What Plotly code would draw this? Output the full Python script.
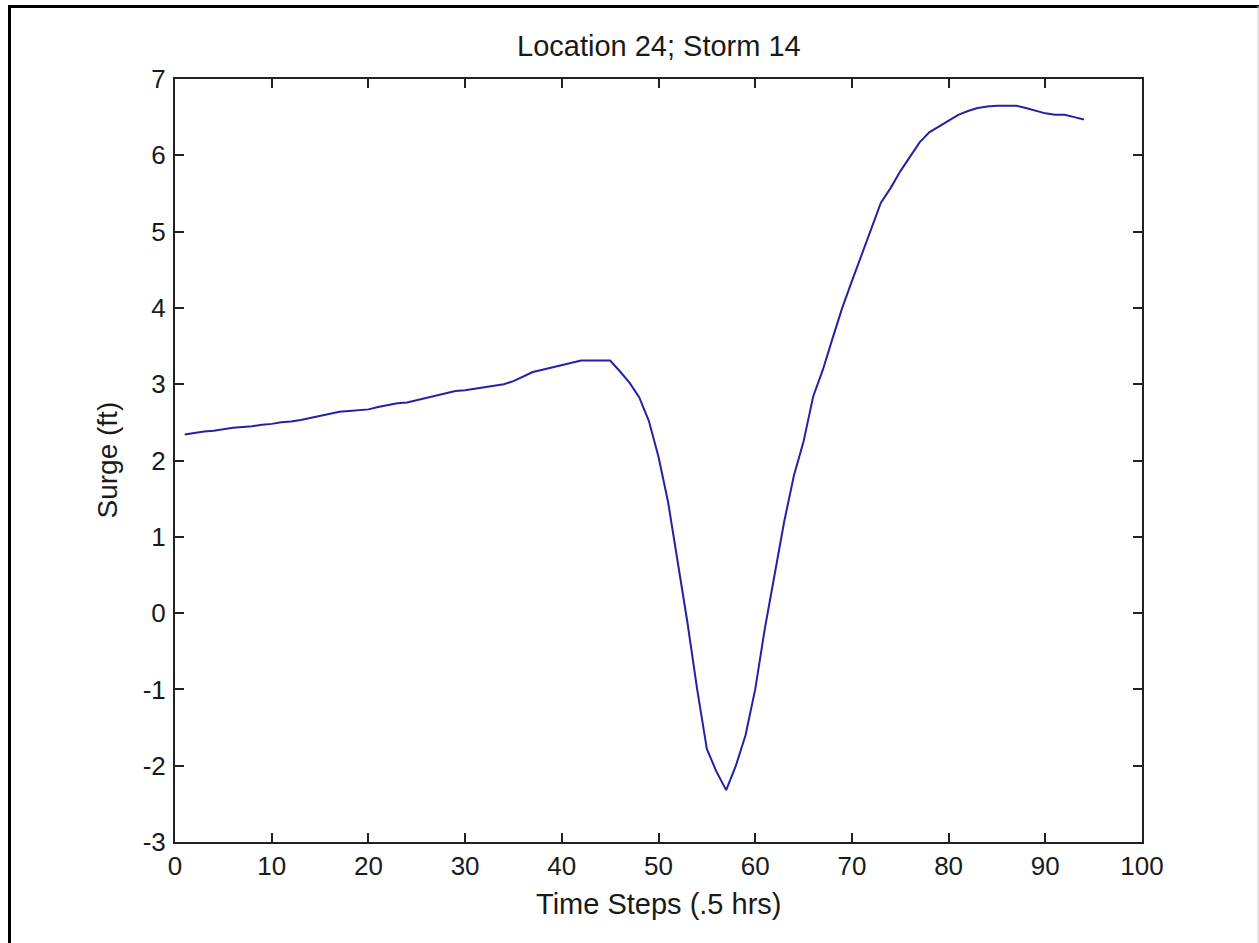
import plotly.graph_objects as go

# Surge time series at Location 24, Storm 14 (half-hour time steps)
time_steps = list(range(1, 95))
surge_ft = [
    2.34, 2.36, 2.38, 2.39, 2.41, 2.43, 2.44, 2.45, 2.47, 2.48,
    2.50, 2.51, 2.53, 2.56, 2.59, 2.62, 2.64, 2.65, 2.66, 2.67,
    2.70, 2.73, 2.75, 2.76, 2.79, 2.82, 2.85, 2.88, 2.91, 2.92,
    2.94, 2.96, 2.98, 3.00, 3.04, 3.10, 3.16, 3.19, 3.22, 3.26,
    3.29, 3.31, 3.31, 3.31, 3.31, 3.17, 3.02, 2.83, 2.52, 2.05,
    1.45, 0.66, -0.13, -1.00, -1.78, -2.08, -2.32, -2.00, -1.60, -1.00,
    -0.20, 0.50, 1.20, 1.80, 2.25, 2.84, 3.19, 3.60, 4.00, 4.35,
    4.70, 5.05, 5.38, 5.57, 5.79, 5.98, 6.17, 6.30, 6.38, 6.45,
    6.53, 6.58, 6.62, 6.64, 6.65, 6.65, 6.65, 6.62, 6.58, 6.55,
    6.53, 6.53, 6.50, 6.47,
]

x_ticks = [0, 10, 20, 30, 40, 50, 60, 70, 80, 90, 100]
y_ticks = [-3, -2, -1, 0, 1, 2, 3, 4, 5, 6, 7]

W, H = 1259, 943
L, R, T, B = 175, 117, 79, 101
PW, PH = W - L - R, H - T - B

FONT = "Liberation Sans, Arial, sans-serif"
INK = "#1a1a1a"

fig = go.Figure()
fig.add_trace(go.Scatter(
    x=time_steps, y=surge_ft, mode="lines",
    line=dict(color="#2222a4", width=2),
    showlegend=False, hoverinfo="skip",
))

axis_common = dict(
    showgrid=False, zeroline=False,
    showline=True, linecolor="#222222", linewidth=2, mirror="allticks",
    ticks="inside", ticklen=9, tickwidth=1.5, tickcolor="#222222",
    tickfont=dict(family=FONT, size=26, color=INK),
)

fig.update_layout(
    width=W, height=H,
    margin=dict(l=L, r=R, t=T, b=B),
    paper_bgcolor="white", plot_bgcolor="white",
    xaxis=dict(range=[0, 100], tickvals=x_ticks, ticktext=[str(v) for v in x_ticks],
               **axis_common),
    yaxis=dict(range=[-3, 7], tickvals=y_ticks, ticktext=[str(v) for v in y_ticks],
               ticklabelstandoff=2, **axis_common),
)

# Title and axis labels
fig.add_annotation(text="Location 24; Storm 14", xref="paper", yref="paper",
                   x=0.5, y=1, yanchor="middle", yshift=79 - 46, showarrow=False,
                   font=dict(family=FONT, size=29, color=INK))
fig.add_annotation(text="Time Steps (.5 hrs)", xref="paper", yref="paper",
                   x=0.5, y=0, yanchor="middle", yshift=-62, showarrow=False,
                   font=dict(family=FONT, size=29, color=INK))
fig.add_annotation(text="Surge (ft)", xref="paper", yref="paper",
                   x=0, y=0.5, xanchor="center", xshift=-68, textangle=-90,
                   showarrow=False,
                   font=dict(family=FONT, size=28, color=INK))

# Figure frame
def px_x(p):
    return (p - L) / PW

def px_y(p):
    return 1 - (p - T) / PH

fig.add_shape(type="line", xref="paper", yref="paper",
              x0=px_x(9.5), x1=px_x(9.5), y0=px_y(5), y1=px_y(950),
              line=dict(color="black", width=3))
fig.add_shape(type="line", xref="paper", yref="paper",
              x0=px_x(8), x1=px_x(1260), y0=px_y(6.5), y1=px_y(6.5),
              line=dict(color="black", width=3))
fig.add_shape(type="line", xref="paper", yref="paper",
              x0=px_x(1258), x1=px_x(1258), y0=px_y(6), y1=px_y(950),
              line=dict(color="#c8c8c8", width=1))

fig.write_html("out.html")
